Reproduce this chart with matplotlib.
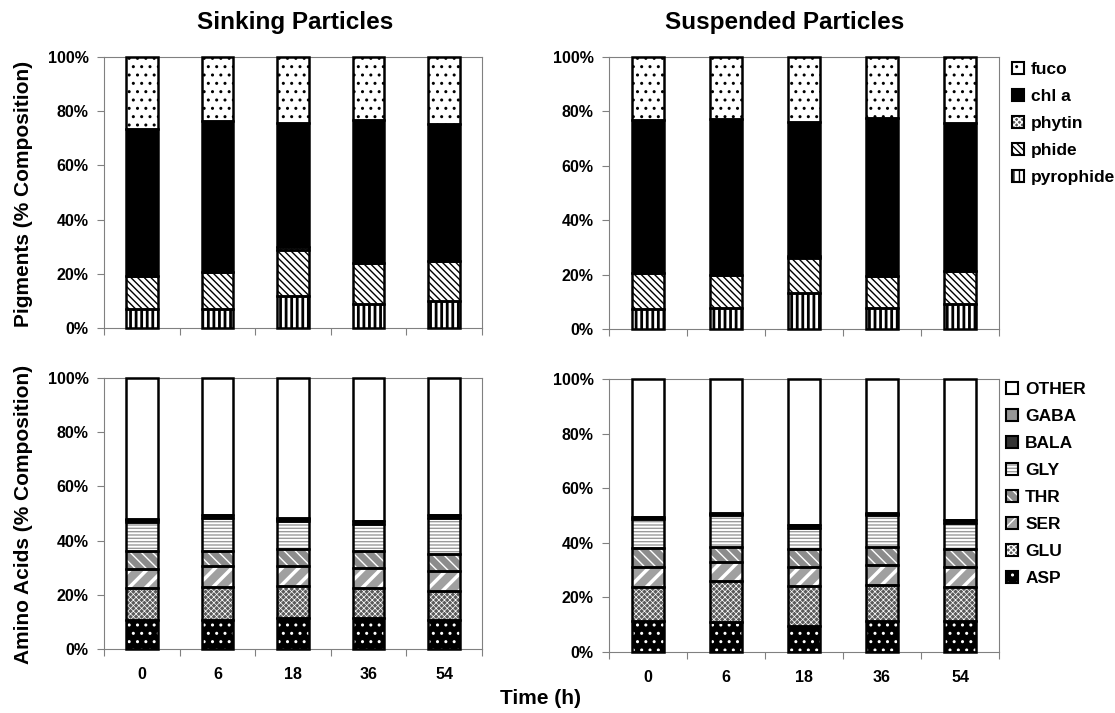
import numpy as np
import matplotlib
matplotlib.use('Agg')
import matplotlib.pyplot as plt
from matplotlib.patches import Patch

plt.rcParams['font.family'] = ['Liberation Sans', 'DejaVu Sans']
plt.rcParams['font.weight'] = 'bold'

times = ['0', '6', '18', '36', '54']

# pigments (% of total), bottom to top
pig_names = ['pyrophide', 'phide', 'phytin', 'chl a', 'fuco']
sink_pyrophide = [7.0, 7.0, 11.9, 8.9, 10.1]
sink_phide = [12.3, 13.8, 16.9, 15.0, 14.8]
sink_phytin = [0.0, 0.0, 1.0, 0.0, 0.0]
sink_chla = [54.0, 55.4, 45.9, 52.7, 50.2]
sink_fuco = [26.7, 23.8, 24.3, 23.4, 24.9]

susp_pyrophide = [7.5, 7.7, 13.2, 7.9, 9.3]
susp_phide = [13.0, 12.2, 12.8, 11.7, 12.1]
susp_phytin = [0.0, 0.0, 1.0, 0.0, 0.0]
susp_chla = [56.5, 57.4, 49.2, 57.8, 54.4]
susp_fuco = [23.0, 22.7, 23.8, 22.6, 24.2]

# amino acids (% of total), bottom to top
aa_names = ['ASP', 'GLU', 'SER', 'THR', 'GLY', 'BALA', 'GABA', 'OTHER']
sink_asp = [10.8, 10.8, 11.3, 11.3, 10.8]
sink_glu = [11.7, 12.0, 12.1, 11.2, 10.5]
sink_ser = [7.1, 7.7, 7.3, 7.4, 7.4]
sink_thr = [6.7, 5.5, 6.3, 6.4, 6.4]
sink_gly = [10.6, 12.3, 10.1, 9.9, 13.2]
sink_bala = [0.8, 1.0, 1.0, 0.9, 1.0]
sink_gaba = [0.1, 0.1, 0.1, 0.1, 0.1]
sink_other = [52.2, 50.6, 51.8, 52.8, 50.6]

susp_asp = [11.3, 10.9, 9.5, 11.3, 11.3]
susp_glu = [12.4, 15.0, 14.8, 13.3, 12.4]
susp_ser = [7.3, 6.9, 7.0, 7.4, 7.3]
susp_thr = [7.1, 5.5, 6.4, 6.3, 6.7]
susp_gly = [10.6, 11.8, 7.9, 11.8, 9.7]
susp_bala = [0.6, 0.6, 0.9, 0.6, 0.9]
susp_gaba = [0.1, 0.1, 0.1, 0.1, 0.1]
susp_other = [50.6, 49.2, 53.4, 49.2, 51.6]

# face colour, hatch colour, hatch, hatch linewidth
styles = {
    'fuco': ('white', 'black', '..', 1.0),
    'chl a': ('black', 'black', None, 1.0),
    'phytin': ('#5a5a5a', 'white', 'xxxxxx', 0.5),
    'phide': ('white', 'black', '\\\\\\\\\\', 1.0),
    'pyrophide': ('white', 'black', '|||', 2.0),
    'OTHER': ('white', 'white', None, 1.0),
    'GABA': ('#969696', '#969696', None, 1.0),
    'BALA': ('#333333', '#333333', None, 1.0),
    'GLY': ('white', '#9a9a9a', '-----', 1.0),
    'THR': ('#8c8c8c', 'white', '\\\\\\', 1.0),
    'SER': ('#a0a0a0', 'white', '//', 2.5),
    'GLU': ('#5a5a5a', 'white', 'xxxxxx', 0.5),
    'ASP': ('black', 'white', '..', 1.0),
}

W, H = 1115, 713
GRAY = '#808080'
BAR_W = 0.42


def stack(ax, names, values):
    x = np.arange(len(times))
    data = np.array(values, dtype=float)
    data = data / data.sum(axis=0) * 100
    bottom = np.zeros(len(times))
    for name, v in zip(names, data):
        face, hc, hatch, hlw = styles[name]
        with plt.rc_context({'hatch.linewidth': hlw}):
            fill = ax.bar(x, v, BAR_W, bottom=bottom, color=face, edgecolor=hc,
                          linewidth=0, hatch=hatch, zorder=3)
        for p in fill:
            if hasattr(p, 'set_hatch_linewidth'):
                p.set_hatch_linewidth(hlw)
        outl = ax.bar(x, v, BAR_W, bottom=bottom, facecolor='none', edgecolor='black',
                      linewidth=1.8, zorder=4)
        for p in outl:
            p.set_clip_on(False)
        bottom += v


def style_axes(ax, show_x):
    ax.set_xlim(-0.5, 4.5)
    ax.set_ylim(0, 100)
    ax.set_yticks(range(0, 101, 20))
    ax.set_yticklabels([f'{v}%' for v in range(0, 101, 20)], fontsize=11.5)
    ax.set_xticks(np.arange(len(times)))
    ax.set_xticklabels(times if show_x else [], fontsize=11.5)
    ax.set_xticks(np.arange(-0.5, 5, 1), minor=True)
    ax.tick_params(axis='x', which='major', length=0, pad=13)
    ax.tick_params(axis='x', which='minor', length=5, color=GRAY, width=0.8)
    ax.tick_params(axis='y', length=5, color=GRAY, width=0.8, pad=6)
    for s in ax.spines.values():
        s.set_color(GRAY)
        s.set_linewidth(0.8)


def add_axes(fig, x0, x1, y0, y1):
    return fig.add_axes([x0 / W, 1 - y1 / H, (x1 - x0) / W, (y1 - y0) / H])


def legend_handles(names):
    hs = []
    for name in names:
        face, hc, hatch, hlw = styles[name]
        with plt.rc_context({'hatch.linewidth': min(hlw, 1.0)}):
            f = Patch(facecolor=face, edgecolor=hc, linewidth=0, hatch=hatch)
        o = Patch(facecolor='none', edgecolor='black', linewidth=1.5)
        hs.append((f, o))
    return hs


fig = plt.figure(figsize=(W / 100, H / 100), dpi=100)

ax1 = add_axes(fig, 104, 482, 57, 328)
stack(ax1, pig_names, [sink_pyrophide, sink_phide, sink_phytin, sink_chla, sink_fuco])
style_axes(ax1, False)

ax2 = add_axes(fig, 609, 999, 57, 329)
stack(ax2, pig_names, [susp_pyrophide, susp_phide, susp_phytin, susp_chla, susp_fuco])
style_axes(ax2, False)

ax3 = add_axes(fig, 104, 482, 378, 649)
stack(ax3, aa_names, [sink_asp, sink_glu, sink_ser, sink_thr, sink_gly,
                      sink_bala, sink_gaba, sink_other])
style_axes(ax3, True)

ax4 = add_axes(fig, 609, 999, 379, 652)
stack(ax4, aa_names, [susp_asp, susp_glu, susp_ser, susp_thr, susp_gly,
                      susp_bala, susp_gaba, susp_other])
style_axes(ax4, True)

leg_kw = dict(loc='upper left', frameon=False, fontsize=12.5, handlelength=0.7,
              handleheight=0.7, handletextpad=0.4, labelspacing=0.68,
              borderpad=0, borderaxespad=0)
fig.legend(legend_handles(pig_names[::-1]), pig_names[::-1],
           bbox_to_anchor=(1012 / W, 1 - 62 / H), **leg_kw)
fig.legend(legend_handles(aa_names[::-1]), aa_names[::-1],
           bbox_to_anchor=(1006 / W, 1 - 382 / H), **leg_kw)

fig.text(295 / W, 1 - 22 / H, 'Sinking Particles', fontsize=17.5, ha='center', va='center')
fig.text(785 / W, 1 - 22 / H, 'Suspended Particles', fontsize=17.5, ha='center', va='center')
fig.text(24 / W, 1 - 194 / H, 'Pigments (% Composition)', fontsize=15,
         rotation=90, ha='center', va='center')
fig.text(24 / W, 1 - 514 / H, 'Amino Acids (% Composition)', fontsize=15,
         rotation=90, ha='center', va='center')
fig.text(541 / W, 1 - 699 / H, 'Time (h)', fontsize=15, ha='center', va='center')

fig.savefig('out.png', dpi=100)
